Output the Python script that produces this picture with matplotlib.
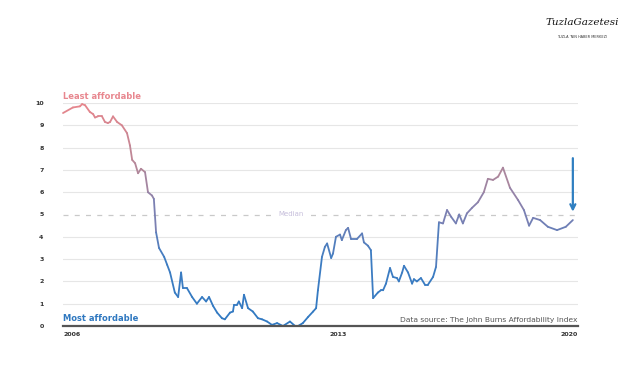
import matplotlib.pyplot as plt
import numpy as np
from matplotlib.collections import LineCollection
from matplotlib.colors import LinearSegmentedColormap

# datos (indice de asequibilidad John Burns)
years = [2006.00, 2006.27, 2006.46, 2006.52, 2006.60, 2006.73, 2006.82, 2006.87, 2006.95, 2007.06,
         2007.14, 2007.22, 2007.28, 2007.36, 2007.47, 2007.60, 2007.74, 2007.82, 2007.88, 2007.96,
         2008.04, 2008.12, 2008.23, 2008.31, 2008.42, 2008.47, 2008.53, 2008.61, 2008.75, 2008.83,
         2008.91, 2009.04, 2009.13, 2009.21, 2009.26, 2009.37, 2009.51, 2009.64, 2009.78, 2009.89,
         2009.97, 2010.08, 2010.19, 2010.32, 2010.40, 2010.54, 2010.62, 2010.65, 2010.73, 2010.78,
         2010.87, 2010.92, 2011.03, 2011.16, 2011.30, 2011.41, 2011.55, 2011.68, 2011.82, 2011.98,
         2012.17, 2012.31, 2012.39, 2012.52, 2012.66, 2012.80, 2012.88, 2012.93, 2013.04, 2013.12,
         2013.18, 2013.29, 2013.34, 2013.42, 2013.53, 2013.58, 2013.69, 2013.75, 2013.83, 2013.99,
         2014.13, 2014.18, 2014.29, 2014.37, 2014.43, 2014.56, 2014.64, 2014.70, 2014.78, 2014.89,
         2014.97, 2015.08, 2015.13, 2015.22, 2015.27, 2015.38, 2015.49, 2015.54, 2015.62, 2015.73,
         2015.84, 2015.92, 2016.06, 2016.14, 2016.22, 2016.33, 2016.44, 2016.55, 2016.68, 2016.77,
         2016.87, 2016.98, 2017.12, 2017.28, 2017.44, 2017.55, 2017.69, 2017.83, 2017.96, 2018.15,
         2018.37, 2018.53, 2018.67, 2018.78, 2018.97, 2019.18, 2019.43, 2019.67, 2019.86]
index = [9.55, 9.8, 9.85, 9.95, 9.9, 9.6, 9.5, 9.35, 9.4, 9.4,
         9.15, 9.1, 9.15, 9.4, 9.15, 9.0, 8.65, 8.1, 7.45, 7.3,
         6.85, 7.05, 6.9, 6.0, 5.85, 5.7, 4.2, 3.5, 3.1, 2.75,
         2.4, 1.5, 1.3, 2.4, 1.7, 1.7, 1.3, 1.0, 1.3, 1.1,
         1.3, 0.9, 0.6, 0.35, 0.3, 0.6, 0.65, 0.95, 0.95, 1.1,
         0.8, 1.4, 0.8, 0.65, 0.35, 0.3, 0.2, 0.05, 0.13, 0.0,
         0.2, 0.0, 0.0, 0.13, 0.4, 0.65, 0.8, 1.6, 3.1, 3.55,
         3.7, 3.05, 3.25, 4.0, 4.1, 3.85, 4.3, 4.4, 3.9, 3.9,
         4.15, 3.75, 3.6, 3.4, 1.25, 1.5, 1.6, 1.6, 1.9, 2.6,
         2.2, 2.15, 2.0, 2.4, 2.7, 2.4, 1.9, 2.1, 2.0, 2.15,
         1.85, 1.85, 2.2, 2.65, 4.65, 4.6, 5.2, 4.9, 4.6, 5.0,
         4.6, 5.05, 5.3, 5.55, 6.0, 6.6, 6.55, 6.7, 7.1, 6.2,
         5.65, 5.2, 4.5, 4.85, 4.75, 4.45, 4.3, 4.45, 4.75]
median = 5
arrow_x = 2019.86
arrow_from = 7.65
arrow_to = 5.0
year_ticks = [2006, 2013.48, 2020]
year_labels = ['2006', '2013', '2020']

fig = plt.figure(figsize=(6.4, 3.72), dpi=100)
ax = fig.add_axes([63 / 640, 1 - 326 / 372, 515 / 640, 223 / 372])

# lineas de fondo
for v in range(1, 11):
    if v != median:
        ax.axhline(v, color='#e6e6e6', lw=0.8, zorder=0)
ax.axhline(median, color='#c9c9c9', lw=0.9, ls=(0, (4, 5)), zorder=0)
ax.axhline(0, color='#555555', lw=1.6, zorder=3, clip_on=False)

# linea con degradado segun el valor
cmap = LinearSegmentedColormap.from_list('afford', [
    (0.0, '#3079c2'), (0.3, '#3f7dc2'), (0.5, '#7d80b2'),
    (0.7, '#b2879a'), (1.0, '#e8868c')])
pts = np.array([years, index]).T.reshape(-1, 1, 2)
segs = np.concatenate([pts[:-1], pts[1:]], axis=1)
vals = (np.array(index[:-1]) + np.array(index[1:])) / 2
lc = LineCollection(segs, cmap=cmap, linewidth=1.3, capstyle='round', joinstyle='round')
lc.set_array(vals)
lc.set_clim(0, 10)
lc.set_clip_on(False)
ax.add_collection(lc)

ax.annotate('', xy=(arrow_x, arrow_to), xytext=(arrow_x, arrow_from),
            arrowprops=dict(arrowstyle='->', color='#2f7fc1', lw=1.6, mutation_scale=9))

ax.text(2012.2, median, 'Median', color='#c6bedb', fontsize=5, ha='center', va='center',
        bbox=dict(facecolor='white', edgecolor='none', pad=2))

ax.text(2006, 10.1, 'Least affordable', color='#e8878f', fontsize=6, fontweight='bold',
        ha='left', va='bottom')
ax.text(2006, 0.12, 'Most affordable', color='#2f78c0', fontsize=6, fontweight='bold',
        ha='left', va='bottom')
ax.text(2020, 0.12, 'Data source: The John Burns Affordability Index', color='#555555',
        fontsize=5.4, ha='right', va='bottom')

ax.set_xlim(2006, 2020)
ax.set_ylim(0, 10)
ax.set_yticks(range(0, 11))
ax.set_yticklabels([str(v) for v in range(0, 11)], fontsize=4.5, fontweight='bold', color='#333333')
ax.set_xticks(year_ticks)
ax.set_xticklabels(year_labels, fontsize=4.5, fontweight='bold', color='#333333')
for lab, ha in zip(ax.get_xticklabels(), ['left', 'center', 'right']):
    lab.set_ha(ha)
ax.tick_params(length=0, pad=14)
ax.tick_params(axis='x', pad=4)
for s in ax.spines.values():
    s.set_visible(False)

# logo
fig.text(0.909, 0.94, 'TuzlaGazetesi', fontsize=7.5, fontstyle='italic', family='DejaVu Serif',
         ha='center', va='center', color='#111111')
fig.text(0.909, 0.9, "TUZLA 'NIN HABER MERKEZI", fontsize=2.5, ha='center', va='center',
         color='#333333')

fig.savefig('out.png', dpi=100)
